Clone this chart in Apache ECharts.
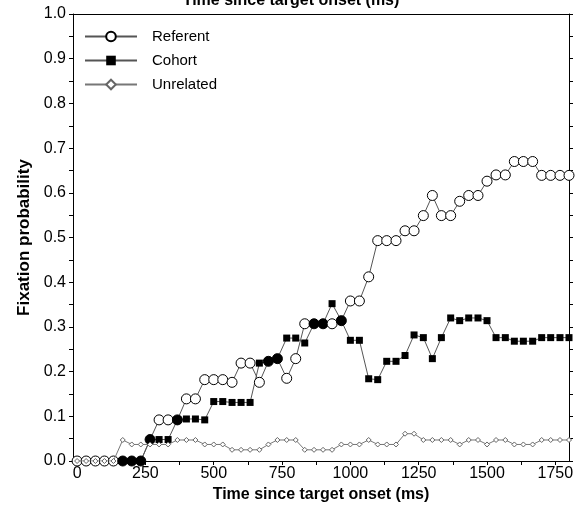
<!DOCTYPE html>
<html>
<head>
<meta charset="utf-8">
<title>Fixation probability</title>
<script src="https://cdn.jsdelivr.net/npm/echarts/dist/echarts.min.js"></script>
<style>
  html, body { margin: 0; padding: 0; background: #fff; }
  #chart { width: 582px; height: 515px; }
</style>
</head>
<body>
<div id="chart"></div>
<script>
// time since target onset (ms), one sample per frame
var times = [0, 33, 67, 100, 133, 167, 200, 233, 267, 300, 333, 367, 400, 433, 467,
	500, 533, 567, 600, 633, 667, 700, 733, 767, 800, 833, 867, 900, 933, 967,
	1000, 1033, 1067, 1100, 1133, 1167, 1200, 1233, 1267, 1300, 1333, 1367, 1400, 1433, 1467,
	1500, 1533, 1567, 1600, 1633, 1667, 1700, 1733, 1767, 1800];

var referent = [0, 0, 0, 0, 0, 0, 0, 0, 0.048, 0.092, 0.092, 0.092, 0.139, 0.139, 0.182,
	0.182, 0.182, 0.176, 0.219, 0.219, 0.176, 0.223, 0.229, 0.185, 0.229, 0.307, 0.307, 0.307, 0.307, 0.314,
	0.358, 0.358, 0.412, 0.493, 0.493, 0.493, 0.515, 0.515, 0.549, 0.594, 0.549, 0.549, 0.581, 0.594, 0.594,
	0.626, 0.640, 0.640, 0.670, 0.670, 0.670, 0.639, 0.639, 0.639, 0.639];

var cohort = [0, 0, 0, 0, 0, 0, 0, 0, 0.048, 0.048, 0.048, 0.092, 0.094, 0.094, 0.092,
	0.133, 0.133, 0.131, 0.131, 0.131, 0.219, 0.223, 0.229, 0.275, 0.275, 0.264, 0.307, 0.307, 0.352, 0.314,
	0.270, 0.270, 0.184, 0.182, 0.223, 0.223, 0.236, 0.282, 0.276, 0.229, 0.276, 0.320, 0.314, 0.320, 0.320,
	0.314, 0.276, 0.276, 0.268, 0.268, 0.268, 0.276, 0.276, 0.276, 0.276];

var unrelated = [0, 0, 0, 0, 0, 0.047, 0.037, 0.037, 0.037, 0.037, 0.037, 0.047, 0.047, 0.047, 0.037,
	0.037, 0.037, 0.025, 0.025, 0.025, 0.025, 0.037, 0.047, 0.047, 0.047, 0.025, 0.025, 0.025, 0.025, 0.037,
	0.037, 0.037, 0.047, 0.037, 0.037, 0.037, 0.061, 0.061, 0.047, 0.047, 0.047, 0.047, 0.037, 0.047, 0.047,
	0.037, 0.047, 0.047, 0.037, 0.037, 0.037, 0.047, 0.047, 0.047, 0.047];

var seriesNames = ['Referent', 'Cohort', 'Unrelated'];
var xTickValues = [0, 125, 250, 375, 500, 625, 750, 875, 1000, 1125, 1250, 1375, 1500, 1625, 1750];
var xLabelValues = [0, 250, 500, 750, 1000, 1250, 1500, 1750];

var fontFamily = '"Liberation Sans", Arial, Helvetica, sans-serif';

function toPoints(values){
	var pts = [];
	values.forEach(function(v, i){
		pts.push([times[i], v]);
	});
	return pts;
}

// where referent and cohort coincide the original plot shows a filled circle
function referentPoints(){
	var pts = [];
	referent.forEach(function(v, i){
		var p = { value: [times[i], v] };
		if (v === cohort[i] && unrelated[i] !== v) {
			p.itemStyle = { color: '#000' };
		}
		pts.push(p);
	});
	return pts;
}

var chart = echarts.init(document.getElementById('chart'), null, { renderer: 'canvas' });

var option = {
	animation: false,
	backgroundColor: '#fff',
	textStyle: { fontFamily: fontFamily },
	// top title is cut off by the picture edge in the original
	title: {
		text: 'Time since target onset (ms)',
		left: 'center',
		top: -7,
		padding: 0,
		textStyle: { fontFamily: fontFamily, fontSize: 16, fontWeight: 'bold', color: '#000' }
	},
	grid: {
		left: 73,
		right: 13,
		top: 14,
		bottom: 54,
		outerBoundsMode: 'none'
	},
	legend: {
		data: seriesNames,
		orient: 'vertical',
		left: 84,
		top: 29,
		padding: 0,
		itemWidth: 52,
		itemHeight: 12,
		itemGap: 9,
		textStyle: {
			fontFamily: fontFamily,
			fontSize: 15,
			lineHeight: 12,
			color: '#000',
			padding: [0, 0, 0, 10]
		}
	},
	xAxis: [{
		type: 'value',
		position: 'bottom',
		min: -15,
		max: 1800,
		name: 'Time since target onset (ms)',
		nameLocation: 'middle',
		nameGap: 18,
		nameTextStyle: { fontFamily: fontFamily, fontSize: 16, fontWeight: 'bold', color: '#000' },
		axisLine: { show: true, onZero: false, lineStyle: { color: '#000', width: 1 } },
		axisTick: { show: true, inside: false, length: 4, customValues: xTickValues, lineStyle: { color: '#000' } },
		axisLabel: {
			customValues: xLabelValues,
			margin: 5,
			fontSize: 16,
			color: '#000',
			fontFamily: fontFamily,
			formatter: function(v){ return String(v); }
		},
		splitLine: { show: false }
	}, {
		// top border
		type: 'value',
		position: 'top',
		min: -15,
		max: 1800,
		axisLine: { show: true, onZero: false, lineStyle: { color: '#000', width: 1 } },
		axisTick: { show: false },
		axisLabel: { show: false },
		splitLine: { show: false }
	}],
	yAxis: [{
		type: 'value',
		position: 'left',
		min: 0,
		max: 1,
		interval: 0.1,
		name: 'Fixation probability',
		nameLocation: 'middle',
		nameGap: 38,
		nameTextStyle: { fontFamily: fontFamily, fontSize: 17, fontWeight: 'bold', color: '#000' },
		axisLine: { show: true, onZero: false, lineStyle: { color: '#000', width: 1 } },
		axisTick: { show: true, inside: false, length: 4, lineStyle: { color: '#000' } },
		minorTick: { show: true, splitNumber: 2, length: 4, lineStyle: { color: '#000' } },
		axisLabel: {
			margin: 7,
			fontSize: 16,
			color: '#000',
			fontFamily: fontFamily,
			formatter: function(v){ return v.toFixed(1); }
		},
		splitLine: { show: false }
	}, {
		// right border with ticks only
		type: 'value',
		position: 'right',
		min: 0,
		max: 1,
		interval: 0.1,
		axisLine: { show: true, onZero: false, lineStyle: { color: '#000', width: 1 } },
		axisTick: { show: true, inside: false, length: 4, lineStyle: { color: '#000' } },
		minorTick: { show: true, splitNumber: 2, length: 4, lineStyle: { color: '#000' } },
		axisLabel: { show: false },
		splitLine: { show: false }
	}],
	series: [{
		name: 'Referent',
		type: 'line',
		z: 3,
		data: referentPoints(),
		symbol: 'circle',
		symbolSize: 10,
		showAllSymbol: true,
		itemStyle: { color: '#fff', borderColor: '#000', borderWidth: 1 },
		lineStyle: { color: '#555', width: 1 }
	}, {
		name: 'Cohort',
		type: 'line',
		z: 2,
		data: toPoints(cohort),
		symbol: 'rect',
		symbolSize: 7,
		showAllSymbol: true,
		itemStyle: { color: '#000', borderColor: '#000', borderWidth: 0 },
		lineStyle: { color: '#555', width: 1 }
	}, {
		name: 'Unrelated',
		type: 'line',
		z: 4,
		data: toPoints(unrelated),
		symbol: 'diamond',
		symbolSize: 5,
		showAllSymbol: true,
		itemStyle: { color: '#fff', borderColor: '#666', borderWidth: 1 },
		lineStyle: { color: '#777', width: 1 }
	}]
};

chart.setOption(option);
</script>
</body>
</html>
